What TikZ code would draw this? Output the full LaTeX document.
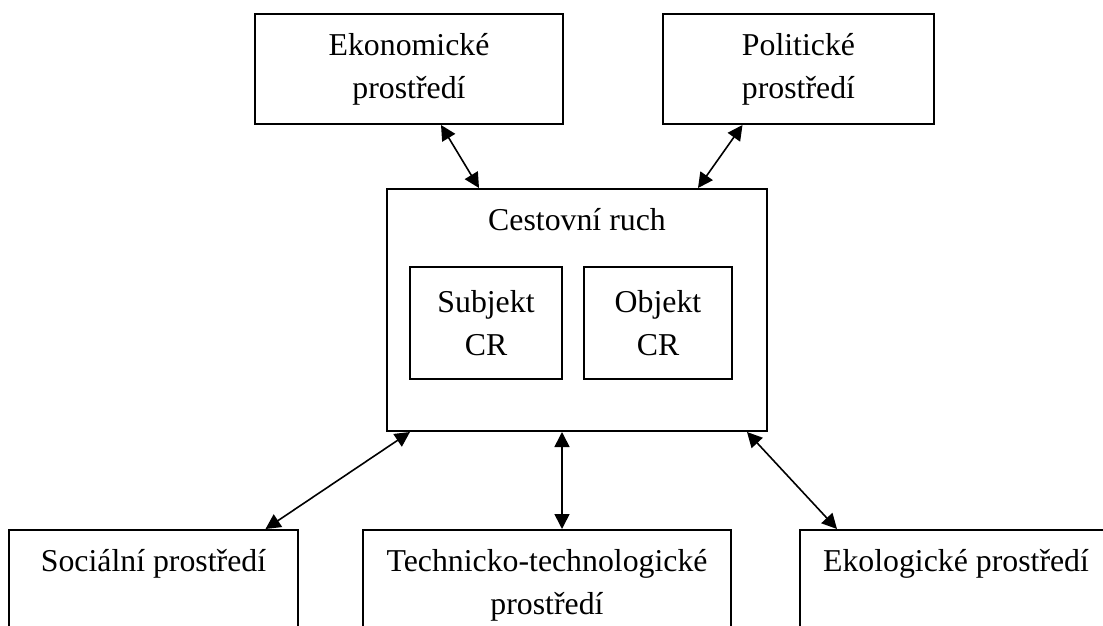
\documentclass[tikz,border=0pt]{standalone}
\usepackage{fontspec}
\setmainfont{Liberation Serif}
\usetikzlibrary{arrows.meta}

\begin{document}
\begin{tikzpicture}[x=0.5pt,y=-0.5pt,
    envbox/.style={draw,line width=1pt,align=center,inner sep=0pt,
      font=\fontsize{15.9pt}{21.5pt}\selectfont},
    toptext/.style={anchor=north,inner sep=0pt,yshift=-10pt,align=center,
      font=\fontsize{15.9pt}{21.5pt}\selectfont},
    link/.style={{Triangle[length=7.5pt,width=7.5pt]}-{Triangle[length=7.5pt,width=7.5pt]},
      line width=0.8pt}]
  \useasboundingbox (0,0) rectangle (1103,626);
  \clip (0,0) rectangle (1103,626);

  % Upper boxes
  \node[envbox,minimum width=154pt,minimum height=55pt] (ekon) at (409,69) {Ekonomické\\prostředí};
  \node[envbox,minimum width=135.5pt,minimum height=55pt] (polit) at (798.5,69) {Politické\\prostředí};

  % Tourism box with its two parts
  \node[envbox,minimum width=190pt,minimum height=121pt,
    label={[toptext]north:Cestovní ruch}] (cr) at (577,310) {};
  \node[envbox,minimum width=76pt,minimum height=56pt] (subj) at (486,323) {Subjekt\\CR};
  \node[envbox,minimum width=74pt,minimum height=56pt] (obj) at (658,323) {Objekt\\CR};

  % Lower boxes (cut off at the bottom)
  \node[envbox,minimum width=144.5pt,minimum height=55pt,
    label={[toptext]north:Sociální prostředí}] (soc) at (153.5,585) {};
  \node[envbox,minimum width=184pt,minimum height=55pt,
    label={[toptext]north:Technicko-technologické\\prostředí}] (tech) at (547,585) {};
  \node[envbox,minimum width=156pt,minimum height=55pt,
    label={[toptext]north:Ekologické prostředí}] (ekol) at (956,585) {};

  % Links
  \draw[link] ([xshift=16pt]ekon.south) -- ([xshift=-49pt]cr.north);
  \draw[link] ([xshift=-28pt]polit.south) -- ([xshift=60.5pt]cr.north);
  \draw[link] ([xshift=-83.5pt]cr.south) -- ([xshift=56pt]soc.north);
  \draw[link] ([xshift=-7.5pt]cr.south) -- ([xshift=7.5pt]tech.north);
  \draw[link] ([xshift=85pt]cr.south) -- ([xshift=-59.5pt]ekol.north);
\end{tikzpicture}
\end{document}
